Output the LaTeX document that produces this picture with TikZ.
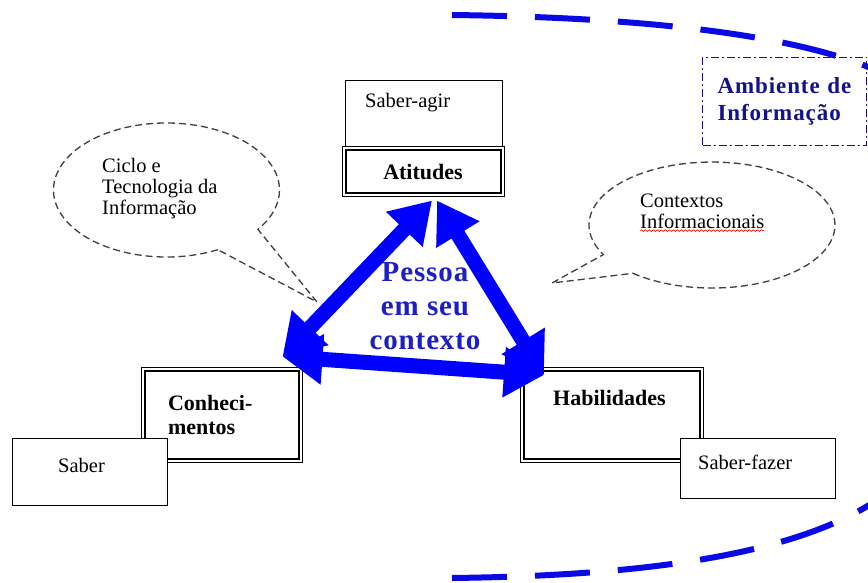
\documentclass[tikz,border=0pt]{standalone}
\usepackage{fontspec}
\setmainfont{Liberation Serif}
\usetikzlibrary{arrows.meta, calc, decorations.pathmorphing}
\definecolor{arrowblue}{HTML}{0000FF}
\definecolor{curveblue}{HTML}{0A0AE6}
\definecolor{textblue}{HTML}{1E1EC8}
\definecolor{envblue}{HTML}{12128C}
\definecolor{bubblegray}{HTML}{404040}

\begin{document}
\begin{tikzpicture}[x=1pt, y=-1pt,
  box/.style={draw, fill=white, line width=1pt, inner sep=0pt},
  lbl/.style={font=\fontsize{20.5}{21}\selectfont, align=left, inner sep=0pt},
  blbl/.style={font=\fontsize{22}{24}\selectfont\bfseries, align=left, inner sep=0pt},
  bubble/.style={draw=bubblegray, line width=1.3pt, dash pattern=on 7pt off 4pt},
  bigarrow/.style={arrowblue, line width=15pt,
    {Triangle[length=40pt, width=48pt]}-{Triangle[length=40pt, width=48pt]}}]

  % page
  \path[use as bounding box, fill=white] (0,0) rectangle (868,583);
  \clip (0,0) rectangle (868,583);

  % information environment
  \draw[curveblue, line width=6pt, dash pattern=on 55pt off 28pt]
    (452,15) .. controls (620,17) and (790,31) .. (880,72);
  \draw[curveblue, line width=6pt, dash pattern=on 55pt off 28pt]
    (452,578) .. controls (620,576) and (790,560) .. (880,498);
  \node[draw=envblue, line width=1pt, dash pattern=on 8pt off 3pt on 2pt off 3pt,
    anchor=north west, minimum height=88pt, text width=134pt, inner xsep=15pt,
    align=left, text=envblue,
    font=\fontsize{23}{27}\selectfont\bfseries\addfontfeatures{LetterSpace=4}]
    (amb) at (702,57) {Ambiente de\\Informação};

  % left bubble
  \draw[bubble] (217.8,249.7) arc[start angle=63, end angle=396, x radius=113, y radius=67]
    -- (317,302) -- cycle;
  \node[lbl, anchor=west] (ciclo) at (102,189) {Ciclo e\\Tecnologia da\\Informação};

  % right bubble
  \draw[bubble] (632.9,273.3) arc[start angle=130, end angle=-208, x radius=123, y radius=63]
    -- (552,283) -- cycle;
  \node[lbl, anchor=west] (ctx) at (640,211) {Contextos\\Informacionais};
  \draw[red, line width=0.6pt, decorate, decoration={snake, amplitude=0.8pt, segment length=4pt}]
    ($(ctx.south west)+(0,2)$) -- ($(ctx.south east)+(0,2)$);

  % saber-agir / atitudes
  \node[box, anchor=north west, minimum width=157pt, minimum height=68pt] (agir) at (345,80) {};
  \node[lbl, anchor=west] (agirtxt) at ([shift={(20,23)}]agir.north west) {Saber-agir};
  \node[box, blbl, minimum width=162pt, minimum height=50pt] (ati) at (423,172) {Atitudes};

  % conhecimentos / saber
  \node[box, blbl, text width=107pt, inner xsep=27pt, minimum height=95pt]
    (con) at (221.5,414.5) {Conheci-\\mentos};

  % habilidades / saber-fazer
  \node[box, anchor=north west, minimum width=183pt, minimum height=95pt] (hab) at (520,367) {};
  \node[blbl, anchor=west] (habtxt) at ([shift={(33,31)}]hab.north west) {Habilidades};

  \foreach \n in {ati, con, hab}
    \draw[line width=2pt] ([shift={(4,4)}]\n.north west) rectangle ([shift={(-4,-4)}]\n.south east);

  \node[box, anchor=north west, minimum width=155pt, minimum height=67pt] (saber) at (12,438) {};
  \node[lbl, anchor=west] (sabertxt) at ([shift={(46,27)}]saber.north west) {Saber};
  \node[box, anchor=north west, minimum width=155pt, minimum height=60pt] (fazer) at (680,438) {};
  \node[lbl, anchor=west] (fazertxt) at ([shift={(18,24)}]fazer.north west) {Saber-fazer};

  % person in context
  \coordinate (tl) at ($(ati.south)+(9,3)$);
  \coordinate (tr) at ($(ati.south)+(14,3)$);
  \coordinate (lv) at ($(con.north east)+(-20,-10)$);
  \coordinate (rv) at ($(hab.north west)+(24,8)$);
  \draw[bigarrow] (lv) -- (tl);
  \draw[bigarrow] (tr) -- (rv);
  \draw[bigarrow] (lv) -- (rv);
  \node[font=\fontsize{29}{34}\selectfont\bfseries\addfontfeatures{LetterSpace=3}, text=textblue, align=center]
    (pessoa) at (425,306) {Pessoa\\em seu\\contexto};
\end{tikzpicture}
\end{document}
